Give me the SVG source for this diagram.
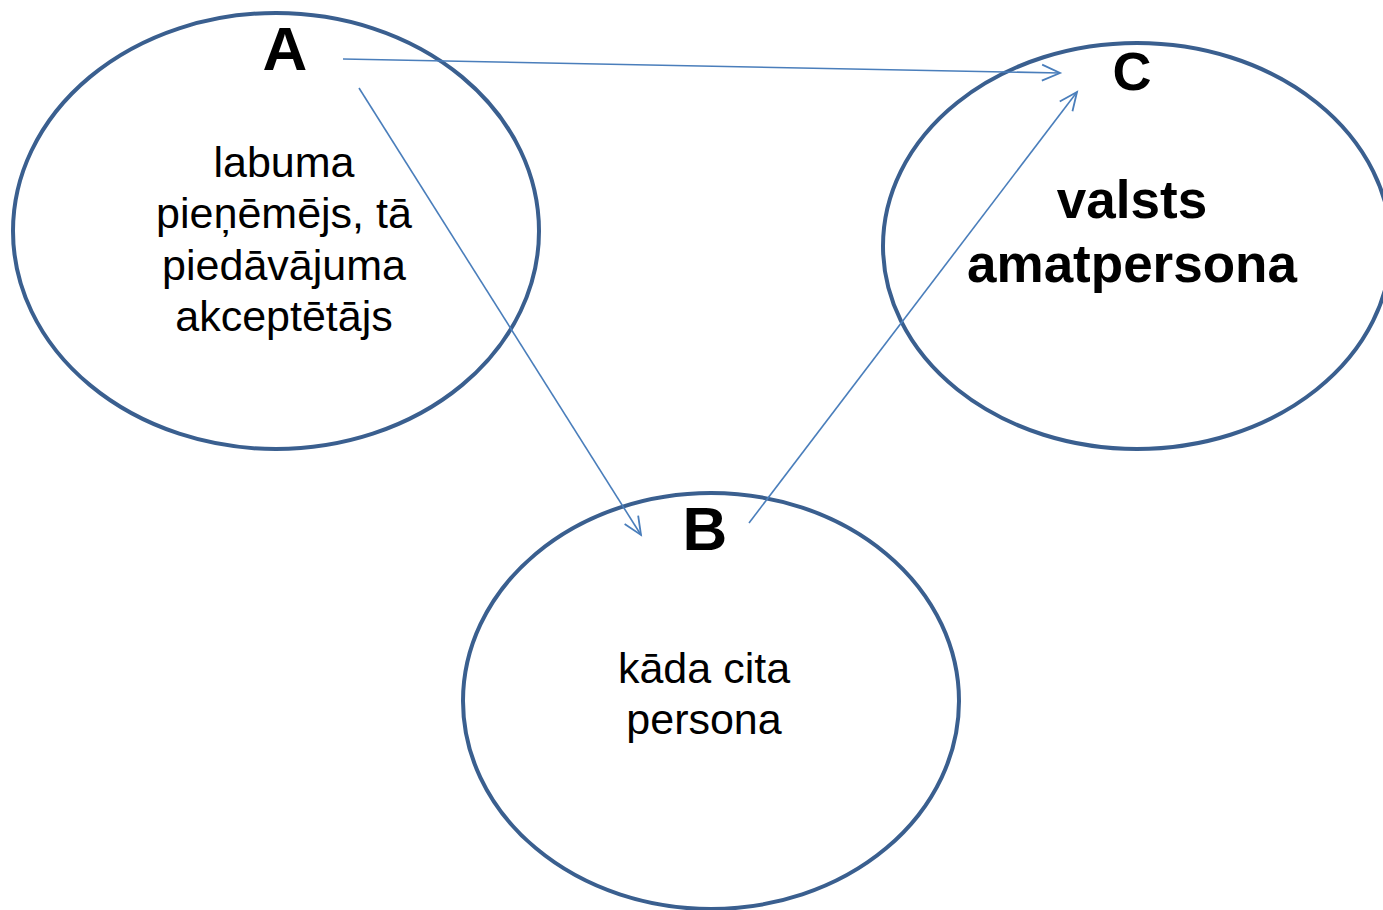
<svg xmlns="http://www.w3.org/2000/svg" width="1383" height="910" viewBox="0 0 1383 910">
<style>
.node{fill:#fff;stroke:#3A5F8F;stroke-width:4}
.lbl{font-family:"Liberation Sans",Arial,sans-serif;font-weight:bold;fill:#000;text-anchor:middle}
.txt{font-family:"Liberation Sans",Arial,sans-serif;fill:#000;text-anchor:middle;font-size:43px}
.conn{stroke:#4A7EBB;stroke-width:1.6;fill:none;marker-end:url(#arr)}
</style>
<defs>
<marker id="arr" markerUnits="userSpaceOnUse" markerWidth="24" markerHeight="24" refX="20" refY="10" orient="auto" viewBox="0 0 24 20">
<path d="M2,2 L20,10 L2,18" fill="none" stroke="#4A7EBB" stroke-width="1.8"/>
</marker>
</defs>
<rect width="1383" height="910" fill="#fff"/>
<g id="nodeA">
<ellipse class="node" cx="276" cy="231" rx="263" ry="218"/>
<text class="lbl" x="285" y="70" font-size="62">A</text>
<text class="txt" x="284" y="177">labuma</text>
<text class="txt" x="284" y="228">pieņēmējs, tā</text>
<text class="txt" x="284" y="280">piedāvājuma</text>
<text class="txt" x="284" y="331">akceptētājs</text>
</g>
<g id="nodeC">
<ellipse class="node" cx="1137" cy="246" rx="254" ry="203"/>
<text class="lbl" x="1132" y="90" font-size="54">C</text>
<text class="lbl" x="1132" y="218" font-size="53">valsts</text>
<text class="lbl" x="1132" y="282" font-size="53">amatpersona</text>
</g>
<g id="nodeB">
<ellipse class="node" cx="711" cy="701" rx="248" ry="208"/>
<text class="lbl" x="705" y="550" font-size="62">B</text>
<text class="txt" x="704" y="683">kāda cita</text>
<text class="txt" x="704" y="734">persona</text>
</g>
<g id="connectors">
<line class="conn" x1="343" y1="59" x2="1060" y2="73"/>
<line class="conn" x1="359" y1="88" x2="641" y2="535"/>
<line class="conn" x1="749" y1="523" x2="1077" y2="92"/>
</g>
</svg>
